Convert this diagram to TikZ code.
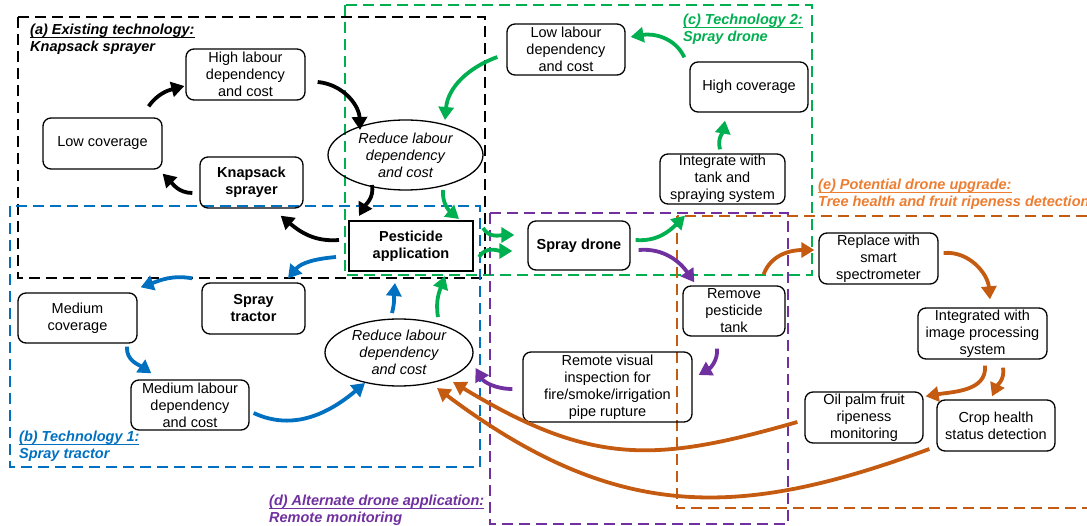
\documentclass[tikz,border=0pt]{standalone}
\usepackage{fontspec}
\setmainfont{Liberation Sans}
\usetikzlibrary{arrows.meta,shapes.geometric,calc}
\definecolor{cblue}{RGB}{0,112,192}
\definecolor{cgreen}{RGB}{0,176,80}
\definecolor{cpurple}{RGB}{112,48,160}
\definecolor{corangeT}{RGB}{237,125,49}
\definecolor{corangeA}{RGB}{197,90,17}
\newcommand\myul[1]{\setbox0\hbox{#1}\rlap{\vrule width \wd0 height -2pt depth 3pt}\box0}
\begin{document}
\begin{tikzpicture}[x=1pt,y=1pt,
  font=\fontsize{14.5}{17}\selectfont,
  box/.style={draw, line width=1.3pt, rounded corners=8pt, align=center, inner sep=0pt},
  bbox/.style={box, font=\fontsize{14.5}{17}\selectfont\bfseries},
  ell/.style={draw, ellipse, line width=1.3pt, align=center, inner sep=0pt, font=\fontsize{14.5}{17}\selectfont\itshape},
  arr/.style={line width=3.8pt, -{Triangle[length=13pt,width=15pt]}},
  frame/.style={line width=2pt, dash pattern=on 11pt off 6pt},
  ttl/.style={anchor=north west, inner sep=0pt, align=left, font=\fontsize{14.5}{17}\selectfont\bfseries\itshape}]
\useasboundingbox (0,0) rectangle (1087,-526);
% frames
\draw[frame] (18,-17) rectangle (485,-278);
\draw[frame, cblue] (10,-206) rectangle (480,-467);
\draw[frame, cgreen] (345,-5) rectangle (812,-275);
\draw[frame, cpurple] (490,-213) rectangle (788,-524);
\draw[frame, corangeA] (677,-216) rectangle (1100,-508);
% titles
\node[ttl] (ta) at (30,-24) {\myul{(a) Existing technology:}\\Knapsack sprayer};
\node[ttl, text=cblue] (tb) at (19,-431) {\myul{(b) Technology 1:}\\Spray tractor};
\node[ttl, text=cgreen] (tc) at (683,-14) {\myul{(c) Technology 2:}\\Spray drone};
\node[ttl, text=cpurple] (td) at (269,-495) {\myul{(d) Alternate drone application:}\\Remote monitoring};
\node[ttl, text=corangeT] (te) at (818,-179) {\myul{(e) Potential drone upgrade:}\\Tree health and fruit ripeness detection};
% nodes
\node[box, minimum width=119pt, minimum height=51pt] (hl) at (245.5,-74.5) {High labour\\dependency\\and cost};
\node[box, minimum width=119pt, minimum height=51pt] (lc) at (102.5,-143.5) {Low coverage};
\node[bbox, minimum width=103pt, minimum height=51pt] (ks) at (251.5,-182.5) {Knapsack\\sprayer};
\node[ell, minimum width=155pt, minimum height=70pt] (e1) at (405.5,-155) {Reduce labour\\dependency\\and cost};
\node[draw, line width=2pt, minimum width=124pt, minimum height=50pt, align=center, inner sep=0pt, font=\fontsize{14.5}{17}\selectfont\bfseries] (pa) at (411,-246) {Pesticide\\application};
\node[bbox, minimum width=103pt, minimum height=51pt] (st) at (253.5,-308.5) {Spray\\tractor};
\node[box, minimum width=119pt, minimum height=50pt] (mc) at (77.5,-318) {Medium\\coverage};
\node[box, minimum width=118pt, minimum height=50pt] (ml) at (190,-405) {Medium labour\\dependency\\and cost};
\node[ell, minimum width=148pt, minimum height=67pt] (e2) at (399,-352.5) {Reduce labour\\dependency\\and cost};
\node[bbox, minimum width=102pt, minimum height=49pt] (sd) at (579,-245.5) {Spray drone};
\node[box, minimum width=118pt, minimum height=51pt] (ll) at (566,-49.5) {Low labour\\dependency\\and cost};
\node[box, minimum width=118pt, minimum height=50pt] (hc) at (749,-87) {High coverage};
\node[box, minimum width=125pt, minimum height=50pt] (it) at (722.5,-179) {Integrate with\\tank and\\spraying system};
\node[box, minimum width=102pt, minimum height=50pt] (rp) at (734,-311) {Remove\\pesticide\\tank};
\node[box, minimum width=169pt, minimum height=70pt] (rv) at (607.5,-387) {Remote visual\\inspection for\\fire/smoke/irrigation\\pipe rupture};
\node[box, minimum width=119pt, minimum height=51pt] (rs) at (878.5,-258.5) {Replace with\\smart\\spectrometer};
\node[box, minimum width=129pt, minimum height=51pt] (ip) at (982.5,-333.5) {Integrated with\\image processing\\system};
\node[box, minimum width=118pt, minimum height=51pt] (op) at (864,-417.5) {Oil palm fruit\\ripeness\\monitoring};
\node[box, minimum width=118pt, minimum height=51pt] (ch) at (996,-425.5) {Crop health\\status detection};
% black arrows
\draw[arr] ($(lc.north east)+(-14,11)$) to[out=55,in=195] ($(hl.west)+(-1,-11.5)$);
\draw[arr] ($(hl.east)+(12,-7.5)$) to[out=-5,in=92] ($(e1)+(-45.5,25)$);
\draw[arr] ($(ks.west)+(-7,-10.5)$) to[out=180,in=-45] ($(lc.south east)+(0,-4)$);
\draw[arr] ($(pa.west)+(-9,6)$) to[out=185,in=-40] ($(ks.south east)+(-23,-7)$);
\draw[arr] ($(e1)+(-33.5,-30)$) to[out=-80,in=60] ($(pa.north west)+(11,4)$);
% green arrows
\draw[arr, cgreen] ($(e1)+(37.5,-35)$) to[out=-95,in=140] ($(pa.north east)+(-15,1)$);
\draw[arr, cgreen] ($(pa.east)+(9,18)$) to[out=-60,in=180] ($(sd.west)+(-13,10.5)$);
\draw[arr, cgreen] ($(pa.east)+(5,-11)$) to[out=60,in=180] ($(sd.west)+(-15,-5.5)$);
\draw[arr, cgreen] ($(sd.east)+(5,5.5)$) to[out=-5,in=-135] ($(it.south)+(-37.5,-11)$);
\draw[arr, cgreen] ($(it.north)+(-2.5,4)$) to[out=105,in=-100] ($(hc.south)+(-24,-8)$);
\draw[arr, cgreen] ($(hc.north west)+(-5,4)$) to[out=115,in=10] ($(ll.east)+(5,12.5)$);
\draw[arr, cgreen] ($(ll.west)+(-9,-7.5)$) to[out=200,in=85] ($(e1)+(39.5,35)$);
\draw[arr, cgreen] ($(e2)+(39,35.5)$) to[out=100,in=-110] ($(pa.south)+(34,-4)$);
% blue arrows
\draw[arr, cblue] ($(pa.west)+(-12,-11)$) to[out=185,in=50] ($(st.north)+(34.5,4)$);
\draw[arr, cblue] ($(st.north west)+(-9,4)$) to[out=170,in=20] ($(mc.north east)+(3,5)$);
\draw[arr, cblue] ($(mc.south)+(49.5,-3)$) to[out=-95,in=145] ($(ml.north west)+(21,6)$);
\draw[arr, cblue] ($(ml.east)+(4,-8)$) to[out=-25,in=-140] ($(e2)+(-34,-30.5)$);
\draw[arr, cblue] ($(e2)+(-7,39.5)$) to[out=75,in=-95] ($(pa.south)+(-16,-11)$);
% purple arrows
\draw[arr, cpurple] ($(sd.east)+(8,-4.5)$) to[out=5,in=125] ($(rp.north west)+(12,3)$);
\draw[arr, cpurple] ($(rp.south)+(-17,-12)$) to[out=-85,in=30] ($(rv.east)+(6,12)$);
\draw[arr, cpurple] ($(rv.west)+(-10,-2)$) to[out=180,in=-60] ($(e2.east)+(2,-15.5)$);
% orange arrows
\draw[arr, corangeA] ($(rp.north east)+(-22,11)$) to[out=70,in=180] ($(rs.west)+(-4,8.5)$);
\draw[arr, corangeA] ($(rs.east)+(5,5.5)$) to[out=5,in=95] ($(ip.north)+(7.5,8)$);
\draw[arr, corangeA] ($(ip.south)+(2.5,-6)$) to[out=-85,in=10] ($(op.north east)+(2,-5)$);
\draw[arr, corangeA] ($(ip.south)+(20.5,-8)$) to[out=-80,in=65] ($(ch.north)+(-4,3)$);
\draw[arr, corangeA] ($(op.west)+(-7,-4.5)$) .. controls +(-140,-40) and +(140,-85) .. ($(e2)+(54,-29.5)$);
\draw[arr, corangeA] ($(ch.west)+(-7,-23.5)$) .. controls +(-190,-70) and +(180,-135) .. ($(e2)+(38,-35.5)$);
\end{tikzpicture}
\end{document}
